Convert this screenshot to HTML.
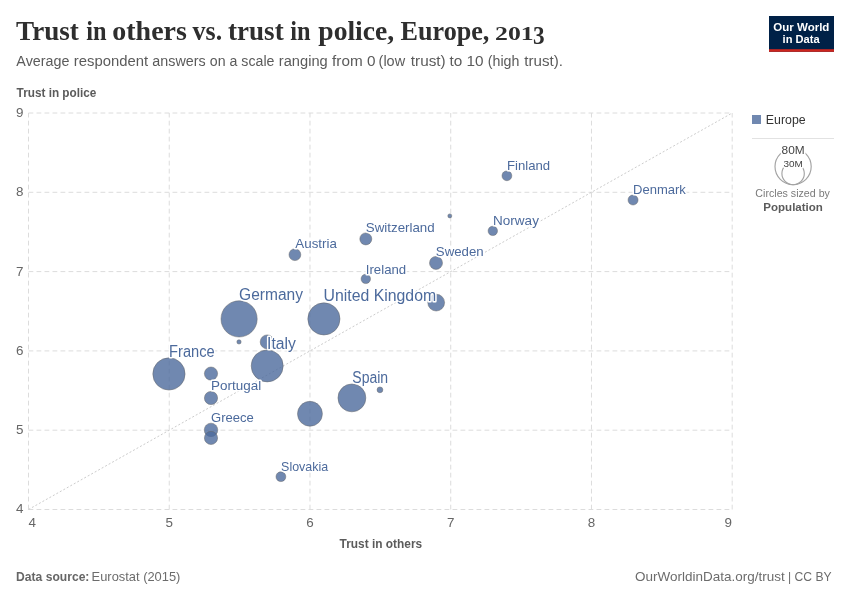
<!DOCTYPE html>
<html lang="en"><head><meta charset="utf-8"><title>Trust in others vs. trust in police, Europe, 2013</title>
<style>
html,body{margin:0;padding:0;background:#fff;}
body{width:850px;height:600px;overflow:hidden;}
svg{display:block;}
text{font-family:"Liberation Sans", "DejaVu Sans", sans-serif;}
.title{font-family:"Liberation Serif", "DejaVu Serif", serif;font-weight:bold;fill:#2e2e2e;}
.lbl{fill:#4c6a9c;stroke:#fff;stroke-width:3px;paint-order:stroke fill;stroke-linejoin:round;}
.halo{stroke:#fff;stroke-width:3px;paint-order:stroke fill;stroke-linejoin:round;}
.tick{fill:#666;font-size:13.4px;}
.grid{stroke:#dcdcdc;stroke-width:1;stroke-dasharray:4.8 3.2;fill:none;}
.dot{fill:#4c6a9c;fill-opacity:.8;stroke:#666;stroke-opacity:.8;stroke-width:.6;}
</style></head><body>
<svg width="850" height="600" viewBox="0 0 850 600">
<rect width="850" height="600" fill="#fff"/>
<text class="title" y="39.8" font-size="27.5"><tspan x="16.10" textLength="62.80" lengthAdjust="spacingAndGlyphs">Trust</tspan> <tspan x="86.35" textLength="20.30" lengthAdjust="spacingAndGlyphs">in</tspan> <tspan x="112.34" textLength="74.57" lengthAdjust="spacingAndGlyphs">others</tspan> <tspan x="192.60" textLength="29.56" lengthAdjust="spacingAndGlyphs">vs.</tspan> <tspan x="228.10" textLength="55.55" lengthAdjust="spacingAndGlyphs">trust</tspan> <tspan x="290.35" textLength="20.30" lengthAdjust="spacingAndGlyphs">in</tspan> <tspan x="318.35" textLength="75.81" lengthAdjust="spacingAndGlyphs">police,</tspan> <tspan x="400.60" textLength="88.81" lengthAdjust="spacingAndGlyphs">Europe,</tspan> <tspan x="495.07" textLength="38.64" lengthAdjust="spacingAndGlyphs" y="39.9" font-size="19.4">201</tspan><tspan x="533.06" textLength="11.62" lengthAdjust="spacingAndGlyphs" y="43.7" font-size="24.8">3</tspan></text>
<text fill="#5b5b5b" y="66.1" font-size="15.3"><tspan x="16.35" textLength="53.05" lengthAdjust="spacingAndGlyphs">Average</tspan> <tspan x="73.85" textLength="74.30" lengthAdjust="spacingAndGlyphs">respondent</tspan> <tspan x="152.35" textLength="53.30" lengthAdjust="spacingAndGlyphs">answers</tspan> <tspan x="209.85" textLength="64.56" lengthAdjust="spacingAndGlyphs">on a scale</tspan> <tspan x="278.83" textLength="48.84" lengthAdjust="spacingAndGlyphs">ranging</tspan> <tspan x="332.10" textLength="43.30" lengthAdjust="spacingAndGlyphs">from 0</tspan> <tspan x="378.59" textLength="26.56" lengthAdjust="spacingAndGlyphs">(low</tspan> <tspan x="410.85" textLength="34.81" lengthAdjust="spacingAndGlyphs">trust)</tspan> <tspan x="449.60" textLength="34.05" lengthAdjust="spacingAndGlyphs">to 10</tspan> <tspan x="487.83" textLength="31.59" lengthAdjust="spacingAndGlyphs">(high</tspan> <tspan x="524.35" textLength="38.58" lengthAdjust="spacingAndGlyphs">trust).</tspan></text>
<g>
<rect x="769" y="16" width="65" height="35.8" fill="#002147"/>
<rect x="769" y="49.2" width="65" height="2.6" fill="#ce261e"/>
<text x="773.35" textLength="56.06" lengthAdjust="spacingAndGlyphs" y="30.5" font-size="11.4" font-weight="bold" fill="#fff">Our World</text>
<text x="782.60" textLength="37.05" lengthAdjust="spacingAndGlyphs" y="42.7" font-size="11.4" font-weight="bold" fill="#fff">in Data</text>
</g>
<text x="16.60" textLength="79.80" lengthAdjust="spacingAndGlyphs" y="96.9" font-size="12.7" font-weight="bold" fill="#5b5b5b">Trust in police</text>
<g class="grid">
<line x1="28.5" y1="509.50" x2="732.2" y2="509.50"/>
<line x1="28.5" y1="430.20" x2="732.2" y2="430.20"/>
<line x1="28.5" y1="350.90" x2="732.2" y2="350.90"/>
<line x1="28.5" y1="271.60" x2="732.2" y2="271.60"/>
<line x1="28.5" y1="192.30" x2="732.2" y2="192.30"/>
<line x1="28.5" y1="113.00" x2="732.2" y2="113.00"/>
<line x1="28.50" y1="509.5" x2="28.50" y2="113.0"/>
<line x1="169.24" y1="509.5" x2="169.24" y2="113.0"/>
<line x1="309.98" y1="509.5" x2="309.98" y2="113.0"/>
<line x1="450.72" y1="509.5" x2="450.72" y2="113.0"/>
<line x1="591.46" y1="509.5" x2="591.46" y2="113.0"/>
<line x1="732.20" y1="509.5" x2="732.20" y2="113.0"/>
</g>
<text x="23.4" y="513.4" font-size="13.4" class="tick" text-anchor="end">4</text>
<text x="23.4" y="434.1" font-size="13.4" class="tick" text-anchor="end">5</text>
<text x="23.4" y="354.8" font-size="13.4" class="tick" text-anchor="end">6</text>
<text x="23.4" y="275.5" font-size="13.4" class="tick" text-anchor="end">7</text>
<text x="23.4" y="196.2" font-size="13.4" class="tick" text-anchor="end">8</text>
<text x="23.4" y="116.9" font-size="13.4" class="tick" text-anchor="end">9</text>
<text x="28.4" y="526.9" font-size="13.4" class="tick">4</text>
<text x="169.2" y="526.9" font-size="13.4" class="tick" text-anchor="middle">5</text>
<text x="310.0" y="526.9" font-size="13.4" class="tick" text-anchor="middle">6</text>
<text x="450.7" y="526.9" font-size="13.4" class="tick" text-anchor="middle">7</text>
<text x="591.5" y="526.9" font-size="13.4" class="tick" text-anchor="middle">8</text>
<text x="732.0" y="526.9" font-size="13.4" class="tick" text-anchor="end">9</text>
<text x="339.60" textLength="82.55" lengthAdjust="spacingAndGlyphs" y="548.3" font-size="12.7" font-weight="bold" fill="#5b5b5b">Trust in others</text>
<line x1="28.5" y1="509.5" x2="732.2" y2="113.0" stroke="#ccc" stroke-width="1" stroke-dasharray="2 2" fill="none"/>
<g>
<circle class="dot" cx="239.1" cy="318.9" r="18.1"/>
<circle class="dot" cx="168.95" cy="373.95" r="16.15"/>
<circle class="dot" cx="323.9" cy="318.9" r="16.1"/>
<circle class="dot" cx="267.2" cy="365.9" r="16.0"/>
<circle class="dot" cx="351.9" cy="397.9" r="13.95"/>
<circle class="dot" cx="309.95" cy="413.8" r="12.45"/>
<circle class="dot" cx="436.2" cy="302.6" r="8.4"/>
<circle class="dot" cx="211.0" cy="429.9" r="6.75"/>
<circle class="dot" cx="211.0" cy="437.9" r="6.6"/>
<circle class="dot" cx="267.2" cy="341.9" r="7.0"/>
<circle class="dot" cx="211.0" cy="398.0" r="6.6"/>
<circle class="dot" cx="211.0" cy="373.6" r="6.6"/>
<circle class="dot" cx="436.0" cy="262.9" r="6.5"/>
<circle class="dot" cx="365.8" cy="238.9" r="6.0"/>
<circle class="dot" cx="294.9" cy="254.7" r="5.9"/>
<circle class="dot" cx="633.05" cy="200.0" r="5.0"/>
<circle class="dot" cx="506.9" cy="175.8" r="4.9"/>
<circle class="dot" cx="280.9" cy="476.7" r="4.9"/>
<circle class="dot" cx="492.8" cy="230.9" r="4.7"/>
<circle class="dot" cx="365.8" cy="278.9" r="4.7"/>
<circle class="dot" cx="379.95" cy="389.85" r="2.9"/>
<circle class="dot" cx="239.0" cy="341.9" r="2.15"/>
<circle class="dot" cx="449.8" cy="215.9" r="2.0"/>
</g>
<g>
<text x="239.10" textLength="63.80" lengthAdjust="spacingAndGlyphs" y="299.6" font-size="15.8" class="lbl">Germany</text>
<text x="323.59" textLength="112.58" lengthAdjust="spacingAndGlyphs" y="301.4" font-size="15.8" class="lbl">United Kingdom</text>
<text x="169.08" textLength="45.58" lengthAdjust="spacingAndGlyphs" y="356.6" font-size="15.8" class="lbl">France</text>
<text x="267.07" textLength="28.83" lengthAdjust="spacingAndGlyphs" y="348.8" font-size="15.8" class="lbl">Italy</text>
<text x="352.34" textLength="35.83" lengthAdjust="spacingAndGlyphs" y="382.8" font-size="15.8" class="lbl">Spain</text>
<text x="507.08" textLength="43.09" lengthAdjust="spacingAndGlyphs" y="170.3" font-size="13" class="lbl">Finland</text>
<text x="633.10" textLength="52.80" lengthAdjust="spacingAndGlyphs" y="194.2" font-size="13" class="lbl">Denmark</text>
<text x="493.10" textLength="45.80" lengthAdjust="spacingAndGlyphs" y="225.4" font-size="13" class="lbl">Norway</text>
<text x="365.85" textLength="68.81" lengthAdjust="spacingAndGlyphs" y="231.9" font-size="13" class="lbl">Switzerland</text>
<text x="295.35" textLength="41.55" lengthAdjust="spacingAndGlyphs" y="247.9" font-size="13" class="lbl">Austria</text>
<text x="435.84" textLength="47.82" lengthAdjust="spacingAndGlyphs" y="255.5" font-size="13" class="lbl">Sweden</text>
<text x="365.81" textLength="40.36" lengthAdjust="spacingAndGlyphs" y="273.8" font-size="13" class="lbl">Ireland</text>
<text x="211.08" textLength="50.09" lengthAdjust="spacingAndGlyphs" y="389.9" font-size="13" class="lbl">Portugal</text>
<text x="211.09" textLength="42.81" lengthAdjust="spacingAndGlyphs" y="421.9" font-size="13" class="lbl">Greece</text>
<text x="281.10" textLength="47.05" lengthAdjust="spacingAndGlyphs" y="470.9" font-size="13" class="lbl">Slovakia</text>
</g>
<rect x="752" y="115" width="9" height="9" fill="#4c6a9c" fill-opacity=".8"/>
<text x="765.84" textLength="39.82" lengthAdjust="spacingAndGlyphs" y="123.8" font-size="12.4" fill="#333">Europe</text>
<line x1="752" y1="138.5" x2="834" y2="138.5" stroke="#e2e2e2" stroke-width="1"/>
<circle cx="793.1" cy="166.6" r="18.1" fill="none" stroke="#a3a3a3" stroke-width="1.15"/>
<circle cx="793.1" cy="173.5" r="11.2" fill="none" stroke="#a3a3a3" stroke-width="1.15"/>
<text x="781.59" textLength="23.08" lengthAdjust="spacingAndGlyphs" y="153.6" font-size="10.1" class="halo" fill="#444">80M</text>
<text x="783.59" textLength="19.31" lengthAdjust="spacingAndGlyphs" y="166.7" font-size="9" class="halo" fill="#444">30M</text>
<text x="755.35" textLength="74.55" lengthAdjust="spacingAndGlyphs" y="197.3" font-size="11.5" fill="#7a7a7a">Circles sized by</text>
<text x="763.34" textLength="59.56" lengthAdjust="spacingAndGlyphs" y="210.7" font-size="11.5" font-weight="bold" fill="#5b5b5b">Population</text>
<text fill="#6c6c6c" y="580.7" font-size="13.5"><tspan x="16.09" textLength="73.32" lengthAdjust="spacingAndGlyphs" font-weight="bold" fill="#666">Data source:</tspan> <tspan x="91.59" textLength="88.81" lengthAdjust="spacingAndGlyphs">Eurostat (2015)</tspan></text>
<text fill="#6c6c6c" y="580.6" font-size="13.5"><tspan x="635.10" textLength="149.55" lengthAdjust="spacingAndGlyphs">OurWorldinData.org/trust</tspan> <tspan x="788.09" textLength="43.57" lengthAdjust="spacingAndGlyphs">| CC BY</tspan></text>
</svg>
</body></html>
